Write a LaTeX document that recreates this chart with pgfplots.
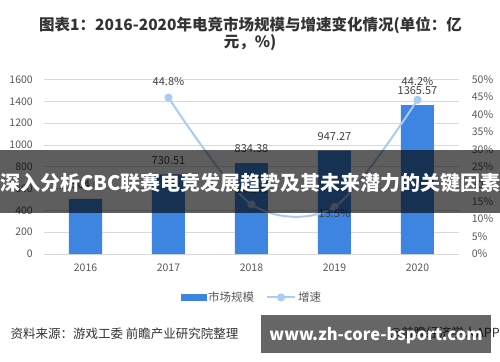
\documentclass[border=0pt]{standalone}
\usepackage{pgfplots}
\pgfplotsset{compat=1.18}
\usepackage{fontspec}
\setmainfont{Noto Sans CJK SC}
\definecolor{barblue}{HTML}{3D85E0}
\definecolor{lineblue}{HTML}{A9CBF4}
\definecolor{gridc}{HTML}{D9D9D9}
\definecolor{tickc}{HTML}{595959}
\definecolor{labc}{HTML}{404040}
\definecolor{titc}{HTML}{333333}
\begin{document}
\begin{tikzpicture}
\path[use as bounding box] (0,0) rectangle (500bp,-362bp);
\fill[white] (0,0) rectangle (500bp,-362bp);
\node[font=\bfseries\fontsize{15.5bp}{18bp}\selectfont, text=titc] at (250.5bp,-25.5bp) {图表1：2016-2020年电竞市场规模与增速变化情况(单位：亿};
\node[font=\bfseries\fontsize{15.5bp}{18bp}\selectfont, text=titc] at (250bp,-43bp) {元，\%)};
\begin{axis}[
  at={(44bp,-254bp)}, anchor=south west, scale only axis,
  width=415bp, height=174.5bp,
  xmin=-0.5, xmax=4.5, ymin=0, ymax=1600,
  xtick={0,1,2,3,4}, xticklabels={2016,2017,2018,2019,2020},
  ytick={0,200,...,1600},
  axis line style={draw=none}, major tick length=0pt,
  ymajorgrids, grid style={gridc, line width=0.8bp},
  /pgf/number format/assume math mode=true,
  /pgf/number format/1000 sep={},
  tick label style={font=\fontsize{10.5bp}{12bp}\selectfont, text=tickc},
  yticklabel style={anchor=east, inner sep=0pt, xshift=-11bp},
  xticklabel style={anchor=north, inner sep=0pt, yshift=-10bp},
  clip=false,
  ybar, bar width=33bp,
]
\addplot[fill=barblue, draw=none, nodes near coords, point meta=explicit symbolic,
  every node near coord/.append style={font=\fontsize{11bp}{12bp}\selectfont, text=labc, anchor=center, yshift=14bp}]
  coordinates {(0,504.6)[504.6] (1,730.51)[730.51] (2,834.38)[834.38] (3,947.27)[947.27] (4,1365.57)[1365.57]};
\end{axis}
\begin{axis}[
  at={(44bp,-254bp)}, anchor=south west, scale only axis,
  width=415bp, height=174.5bp,
  xmin=-0.5, xmax=4.5, ymin=0, ymax=50,
  ytick={0,5,...,50},
  yticklabel={\pgfmathprintnumber{\tick}\%},
  axis y line*=right, axis x line=none,
  axis line style={draw=none}, major tick length=0pt,
  /pgf/number format/assume math mode=true,
  tick label style={font=\fontsize{10.5bp}{12bp}\selectfont, text=tickc},
  yticklabel style={anchor=west, inner sep=0pt, xshift=12.7bp},
  clip=false,
  legend style={at={(0.501,-0.249)}, anchor=center, draw=none, fill=none,
    font=\fontsize{11.5bp}{13bp}\selectfont, text=tickc,
    /tikz/every even column/.append style={column sep=10bp}},
  legend columns=2, legend cell align=left,
]
\addlegendimage{legend image code/.code={\fill[barblue] (0bp,-3bp) rectangle (25bp,3bp);}}
\addlegendentry{市场规模}
\addplot[lineblue, line width=2bp, smooth, mark=*, mark size=3bp,
  mark options={fill=lineblue, draw=lineblue},
  point meta=\thisrow{y},
  visualization depends on={\thisrow{dy}\as\dy},
  nodes near coords={\pgfmathprintnumber[fixed,fixed zerofill,precision=1]{\pgfplotspointmeta}\%},
  every node near coord/.append style={font=\fontsize{11bp}{12bp}\selectfont, text=labc, anchor=center, yshift=\dy*1bp},
  legend image code/.code={\draw[lineblue, line width=2bp] (0bp,0bp) -- (28bp,0bp); \fill[lineblue] (14bp,0bp) circle (3bp);}]
  table {
x y dy
1 44.8 16
2 14.2 15
3 13.5 -7
4 44.2 18
};
\addlegendentry{增速}
\end{axis}
\fill[black, opacity=0.63] (0bp,-150bp) rectangle (500bp,-212.7bp);
\node[white, font=\bfseries\fontsize{20bp}{24bp}\selectfont] at (250.5bp,-183bp) {深入分析CBC联赛电竞发展趋势及其未来潜力的关键因素};
\node[anchor=west, text=titc, font=\fontsize{12.5bp}{14bp}\selectfont] at (7bp,-333.5bp) {资料来源：游戏工委 前瞻产业研究院整理};
\node[anchor=east, inner sep=0pt, text=titc, font=\fontsize{12.5bp}{14bp}\selectfont] at (500bp,-333bp) {@前瞻经济学人APP};
\fill[black, opacity=0.6] (261bp,-315bp) rectangle (490.7bp,-352.7bp);
\node[white, font=\bfseries\fontsize{16.5bp}{18bp}\selectfont] at (376bp,-336bp) {www.zh-core-bsport.com};
\end{tikzpicture}
\end{document}
